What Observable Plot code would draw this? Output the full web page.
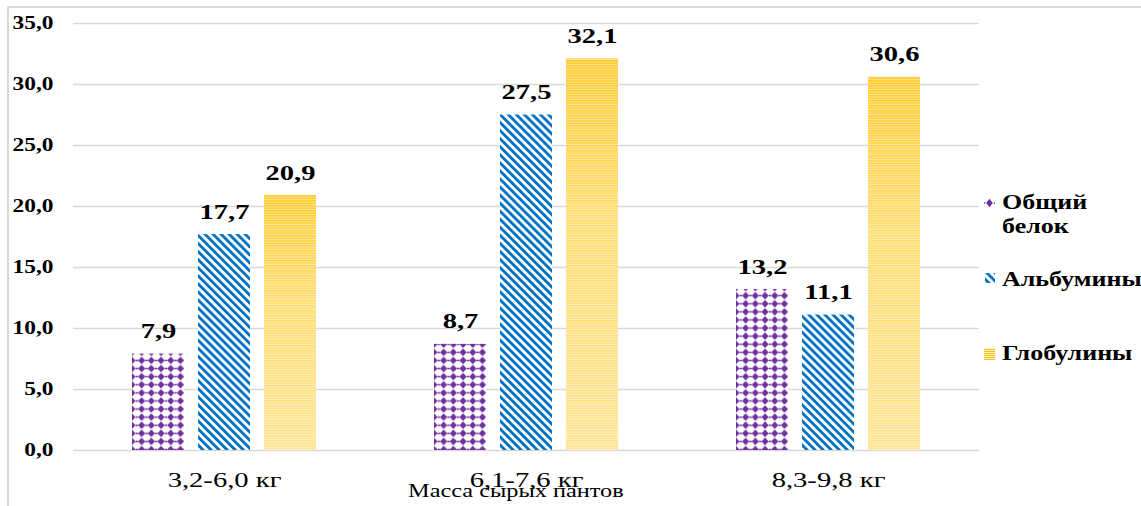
<!DOCTYPE html>
<html><head><meta charset="utf-8">
<script src="https://cdn.jsdelivr.net/npm/d3@7"></script>
<script src="https://cdn.jsdelivr.net/npm/@observablehq/plot@0.6"></script>
<style>
body{margin:0;background:#fff;}
#wrap{position:relative;width:1141px;height:506px;overflow:hidden;background:#fff;}
#frame{position:absolute;left:7px;top:6px;width:1300px;height:700px;border-left:2px solid #d9d9d9;border-top:2px solid #d9d9d9;pointer-events:none;}
#chart{position:absolute;left:0;top:0;}
.lg{position:absolute;font:bold 20px "Liberation Serif",serif;line-height:24px;color:#000;transform:scaleX(1.3);transform-origin:left center;white-space:nowrap;}
.mk{position:absolute;}
#xtitle{position:absolute;left:0;width:1031px;top:481px;text-align:center;font:18px "Liberation Serif",serif;color:#000;}
#xtitle span{display:inline-block;transform:scaleX(1.35);}
</style></head><body>
<svg width="0" height="0" style="position:absolute">
<defs>
  <pattern id="pDiamond" patternUnits="userSpaceOnUse" width="9.7" height="8.1">
    <rect width="9.7" height="8.1" fill="#fff"/>
    <path d="M4.85,0.2 L8.4,4.05 L4.85,7.9 L1.3,4.05Z" fill="#7030A0"/>
    <rect x="0" y="3.3" width="1.2" height="1.5" fill="#7030A0"/>
    <rect x="8.5" y="3.3" width="1.2" height="1.5" fill="#7030A0"/>
  </pattern>
  <pattern id="pStripe" patternUnits="userSpaceOnUse" width="5.7" height="10" patternTransform="rotate(-45)">
    <rect width="5.7" height="10" fill="#fff"/>
    <rect width="2.8" height="10" fill="#0070C0"/>
  </pattern>
  <linearGradient id="gYellow" x1="0" y1="0" x2="0" y2="1">
    <stop offset="0" stop-color="#FFC926"/>
    <stop offset="0.4" stop-color="#FFDA66"/>
    <stop offset="1" stop-color="#FFE38C"/>
  </linearGradient>
  <pattern id="pLines" patternUnits="userSpaceOnUse" width="10" height="2.5">
    <rect y="1.5" width="10" height="1" fill="#fff" fill-opacity="0.5"/>
  </pattern>
  <pattern id="pLinesLg" patternUnits="userSpaceOnUse" width="12" height="2">
    <rect width="12" height="1" fill="#FFC000"/>
    <rect y="1" width="12" height="1" fill="#FFF2CC"/>
  </pattern>
</defs>
</svg>
<div id="wrap">
  <div id="chart"></div>
  <div id="frame"></div>
  <div id="xtitle"><span>Масса сырых пантов</span></div>
  <svg class="mk" style="left:984px;top:198px" width="11" height="10"><rect width="11" height="10" fill="#fff"/><path d="M5.5,0.8 L8.8,5 L5.5,9.2 L2.2,5Z" fill="#7030A0"/><rect x="0" y="4.3" width="1.3" height="1.4" fill="#7030A0"/><rect x="9.7" y="4.3" width="1.3" height="1.4" fill="#7030A0"/></svg>
  <div class="lg" style="left:1002px;top:190px">Общий<br>белок</div>
  <svg class="mk" style="left:985px;top:273px" width="10" height="10"><rect width="10" height="10" fill="url(#pStripe)"/></svg>
  <div class="lg" style="left:1002px;top:267px">Альбумины</div>
  <svg class="mk" style="left:984px;top:349px" width="11" height="11"><rect width="11" height="11" fill="url(#pLinesLg)"/></svg>
  <div class="lg" style="left:1002px;top:341px">Глобулины</div>
</div>
<script>
// ---- data ----
const groups = ["3,2-6,0 кг", "6,1-7,6 кг", "8,3-9,8 кг"];
const series = ["Общий белок", "Альбумины", "Глобулины"];
const totalProtein = [7.9, 8.7, 13.2];
const albumins = [17.7, 27.5, 11.1];
const globulins = [20.9, 32.1, 30.6];
const yTicks = [0, 5, 10, 15, 20, 25, 30, 35];

const values = [totalProtein, albumins, globulins];
const rows = [];
groups.forEach((g, gi) => series.forEach((s, si) => rows.push({group: g, series: s, value: values[si][gi]})));
const fmt = v => v.toFixed(1).replace(".", ",");
const serif = "Liberation Serif, Times New Roman, serif";
const bySeries = s => rows.filter(d => d.series === s);

const chart = Plot.plot({
  width: 1141,
  height: 506,
  marginLeft: 72,
  marginRight: 161,
  marginTop: 23,
  marginBottom: 56,
  style: {background: "transparent", fontFamily: serif, color: "#000"},
  fx: {domain: groups, padding: 0},
  x: {domain: series, paddingInner: 0.21, paddingOuter: 0.864, axis: null},
  y: {domain: [0, 35]},
  marks: [
    Plot.gridY(yTicks, {stroke: "#d9d9d9", strokeOpacity: 1, strokeWidth: 1.3}),
    Plot.barY(bySeries(series[0]), {fx: "group", x: "series", y: "value", fill: "url(#pDiamond)"}),
    Plot.barY(bySeries(series[1]), {fx: "group", x: "series", y: "value", fill: "url(#pStripe)"}),
    Plot.barY(bySeries(series[2]), {fx: "group", x: "series", y: "value", fill: "url(#gYellow)"}),
    Plot.barY(bySeries(series[2]), {fx: "group", x: "series", y: "value", fill: "url(#pLines)"}),
    Plot.text(rows, {fx: "group", x: "series", y: "value", text: d => fmt(d.value), dy: -23, lineAnchor: "middle",
      fontSize: 22, fontWeight: "bold", fontFamily: serif, fill: "#000"}),
    Plot.axisY({ticks: yTicks, tickFormat: fmt, tickSize: 0, tickPadding: 20, fontSize: 18, fontWeight: "bold",
      fontFamily: serif, label: null}),
    Plot.axisFx({anchor: "bottom", tickSize: 0, tickPadding: 21, fontSize: 22, fontFamily: serif, label: null})
  ]
});

// horizontally stretch text glyphs like the reference
chart.querySelectorAll("text").forEach(t => {
  const x = +t.getAttribute("x") || 0, y = +t.getAttribute("y") || 0;
  let tr = t.getAttribute("transform") || "";
  if (x || y) { t.removeAttribute("x"); t.removeAttribute("y"); tr = `translate(${x},${y}) ` + tr; }
  t.setAttribute("transform", tr + " scale(1.3,1)");
});
document.getElementById("chart").appendChild(chart);
</script>
</body></html>
